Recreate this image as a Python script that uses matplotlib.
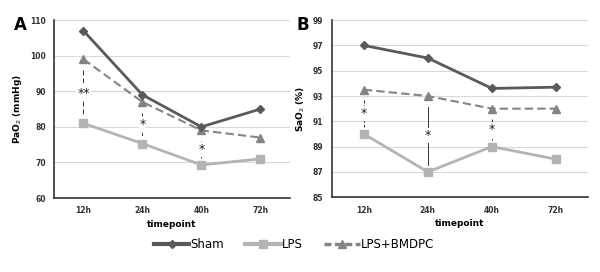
import matplotlib
matplotlib.use("Agg")
import matplotlib.pyplot as plt
from matplotlib.lines import Line2D

timepoints = ["12h", "24h", "40h", "72h"]

# panel A: PaO2 (mmHg)
pao2_sham = [107, 89, 80, 85]
pao2_lps = [81, 75.3, 69.3, 71]
pao2_bmdpc = [99, 87, 79, 77]
pao2_sig = ["**", "*", "*"]

# panel B: SaO2 (%)
sao2_sham = [97, 96, 93.6, 93.7]
sao2_lps = [90, 87, 89, 88]
sao2_bmdpc = [93.5, 93, 92, 92]
sao2_sig = ["*", "*", "*"]

c_sham = "#5a5a5a"
c_lps = "#b4b4b4"
c_bm = "#848484"

plt.rcParams['font.family'] = ['DejaVu Sans']

fig = plt.figure(figsize=(6, 2.72), dpi=100)
axA = fig.add_axes([0.09, 0.272, 0.393, 0.654])
axB = fig.add_axes([0.553, 0.275, 0.427, 0.651])


def draw_panel(ax, sham, lps, bm, sig, ylim, yticks, ylabel, sig_style):
    x = range(len(timepoints))
    ax.plot(x, sham, color=c_sham, lw=2, marker="D", ms=4, zorder=4)
    ax.plot(x, lps, color=c_lps, lw=2, marker="s", ms=6, zorder=3)
    ax.plot(x, bm, color=c_bm, lw=1.5, ls=(0, (4, 2)), marker="^", ms=6, zorder=3)
    ax.set_xlim(-0.5, len(timepoints) - 0.5)
    ax.set_ylim(*ylim)
    ax.set_yticks(yticks)
    ax.set_xticks(list(x))
    ax.set_xticklabels(timepoints)
    ax.tick_params(length=0, labelsize=5.5, pad=6)
    for lab in ax.get_xticklabels() + ax.get_yticklabels():
        lab.set_fontweight("bold")
        lab.set_color("#333333")
    ax.set_xlabel("timepoint", fontsize=6.5, fontweight="bold", labelpad=3)
    ax.set_ylabel(ylabel, fontsize=6.5, fontweight="bold", labelpad=4)
    ax.grid(axis="y", color="#d9d9d9", lw=0.8)
    ax.set_axisbelow(True)
    for s in ["top", "right"]:
        ax.spines[s].set_visible(False)
    for s in ["left", "bottom"]:
        ax.spines[s].set_color("#333333")
        ax.spines[s].set_linewidth(1.2)
    # significance markers between LPS and LPS+BMDPC
    for i, s in enumerate(sig):
        hi = bm[i] - 0.06 * (ylim[1] - ylim[0])
        lo = lps[i] + 0.04 * (ylim[1] - ylim[0])
        mid = (hi + lo) / 2
        ls = sig_style[i]
        ax.plot([i, i], [hi, lo], color="#333333", lw=0.7, ls=ls, zorder=2)
        ax.text(i, mid, s, ha="center", va="center", fontsize=9,
                color="#222222", bbox=dict(fc="white", ec="none", pad=0.5), zorder=5)


draw_panel(axA, pao2_sham, pao2_lps, pao2_bmdpc, pao2_sig,
           (60, 110), [60, 70, 80, 90, 100, 110], "PaO$_2$ (mmHg)",
           [(0, (5, 3)), (0, (3, 2)), (0, (3, 2))])
draw_panel(axB, sao2_sham, sao2_lps, sao2_bmdpc, sao2_sig,
           (85, 99), [85, 87, 89, 91, 93, 95, 97, 99], "SaO$_2$ (%)",
           [(0, (3, 2)), "-", (0, (3, 2))])

fig.text(0.024, 0.89, "A", fontsize=12, fontweight="bold")
fig.text(0.495, 0.89, "B", fontsize=12, fontweight="bold")

handles = [
    Line2D([], [], color=c_sham, lw=3, marker="D", ms=4),
    Line2D([], [], color=c_lps, lw=3, marker="s", ms=6),
    Line2D([], [], color=c_bm, lw=2.5, ls=(0, (2, 1)), marker="^", ms=6),
]
fig.legend(handles, ["Sham", "LPS", "LPS+BMDPC"], loc="center",
           bbox_to_anchor=(0.49, 0.1), ncol=3, frameon=False,
           fontsize=8.5, handlelength=3, handletextpad=0.1, columnspacing=1.8)

fig.savefig("out.png", dpi=100)
